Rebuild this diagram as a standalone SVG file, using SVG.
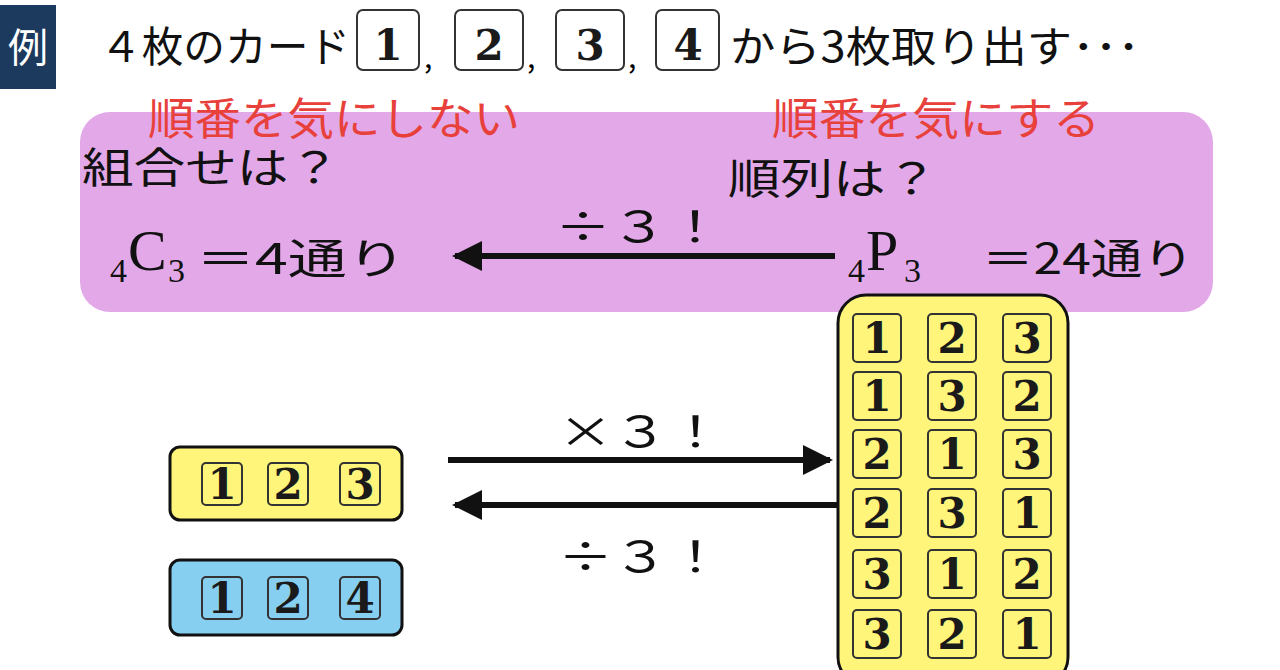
<svg xmlns="http://www.w3.org/2000/svg" width="1280" height="670" viewBox="0 0 1280 670">
<style>
.jp{font-family:"Noto Sans CJK JP","Liberation Sans",sans-serif}
.red{fill:#e8403a;font-size:44px}
.blk{fill:#111;font-size:42px}
.card{fill:none;stroke:#333;stroke-width:2}
.num{font-family:"DejaVu Serif","Liberation Serif",serif;font-weight:bold;font-size:42px;fill:#1a1a1a;text-anchor:middle}
.ser{font-family:"Liberation Serif",serif;fill:#111}
</style>
<defs>
<marker id="ah" viewBox="0 0 10 10" refX="9" refY="5" markerWidth="5" markerHeight="5" orient="auto-start-reverse" markerUnits="strokeWidth"><path d="M0,0 L10,5 L0,10 Z" fill="#111"/></marker>
</defs>
<rect width="1280" height="670" fill="#fff"/>
<g id="title">
<rect x="0" y="5" width="56" height="84" fill="#1c3a5e"/>
<text x="28" y="62" class="jp" font-size="40" fill="#fff" text-anchor="middle">例</text>
<text x="100" y="62" class="jp blk" font-size="38" textLength="250" lengthAdjust="spacingAndGlyphs">４枚のカード</text>
<rect x="357" y="10" width="62" height="60" rx="6" class="card"/><text x="388" y="60" class="num" font-size="52">1</text>
<text x="424" y="68" class="jp" font-size="30">,</text>
<rect x="455" y="10" width="68" height="60" rx="6" class="card"/><text x="489" y="60" class="num" font-size="52">2</text>
<text x="527" y="68" class="jp" font-size="30">,</text>
<rect x="556" y="10" width="68" height="60" rx="6" class="card"/><text x="590" y="60" class="num" font-size="52">3</text>
<text x="628" y="68" class="jp" font-size="30">,</text>
<rect x="656" y="10" width="63" height="60" rx="6" class="card"/><text x="688" y="60" class="num" font-size="52">4</text>
<text x="730" y="62" class="jp blk" font-size="38" textLength="410" lengthAdjust="spacingAndGlyphs">から3枚取り出す･･･</text>
</g>
<g id="pink">
<rect x="80" y="112" width="1133" height="200" rx="30" fill="#e2a8e8"/>
<text x="148" y="135" class="jp red" textLength="372" lengthAdjust="spacingAndGlyphs">順番を気にしない</text>
<text x="772" y="135" class="jp red" textLength="328" lengthAdjust="spacingAndGlyphs">順番を気にする</text>
<text x="82" y="183" class="jp blk" textLength="258" lengthAdjust="spacingAndGlyphs">組合せは？</text>
<text x="728" y="194" class="jp blk" textLength="210" lengthAdjust="spacingAndGlyphs">順列は？</text>
<text x="555" y="242" class="jp blk" font-size="56" textLength="168" lengthAdjust="spacingAndGlyphs">÷３！</text>
<text x="110" y="282" class="ser" font-size="34">4</text>
<text x="128" y="270" class="ser" font-size="58">C</text>
<text x="168" y="282" class="ser" font-size="34">3</text>
<text x="196" y="274" class="jp blk" textLength="210" lengthAdjust="spacingAndGlyphs">＝4通り</text>
<text x="848" y="282" class="ser" font-size="34">4</text>
<text x="866" y="270" class="ser" font-size="58">P</text>
<text x="904" y="282" class="ser" font-size="34">3</text>
<text x="982" y="274" class="jp blk" textLength="212" lengthAdjust="spacingAndGlyphs">＝24通り</text>
</g>
<g id="connectors" stroke="#111" stroke-width="6" fill="none">
<line x1="835" y1="256" x2="455" y2="256" marker-end="url(#ah)"/>
<line x1="448" y1="460" x2="830" y2="460" marker-end="url(#ah)"/>
<line x1="838" y1="505" x2="455" y2="505" marker-end="url(#ah)"/>
</g>
<text x="558" y="447" class="jp blk" font-size="56" textLength="165" lengthAdjust="spacingAndGlyphs">×３！</text>
<text x="558" y="572" class="jp blk" font-size="56" textLength="165" lengthAdjust="spacingAndGlyphs">÷３！</text>
<g id="combo123">
<rect x="170" y="447" width="232" height="73" rx="10" fill="#fef57a" stroke="#111" stroke-width="3"/>
<rect x="202" y="463" width="40" height="42" rx="4" class="card"/><text x="222" y="499" class="num" font-size="38">1</text>
<rect x="268" y="463" width="40" height="42" rx="4" class="card"/><text x="288" y="499" class="num" font-size="38">2</text>
<rect x="340" y="463" width="40" height="42" rx="4" class="card"/><text x="360" y="499" class="num" font-size="38">3</text>
</g>
<g id="combo124">
<rect x="170" y="560" width="232" height="75" rx="10" fill="#86cff0" stroke="#111" stroke-width="3"/>
<rect x="202" y="577" width="40" height="42" rx="4" class="card"/><text x="222" y="613" class="num" font-size="38">1</text>
<rect x="268" y="577" width="40" height="42" rx="4" class="card"/><text x="288" y="613" class="num" font-size="38">2</text>
<rect x="340" y="577" width="40" height="42" rx="4" class="card"/><text x="360" y="613" class="num" font-size="38">4</text>
</g>
<g id="perms">
<rect x="838" y="295" width="230" height="390" rx="28" fill="#fef57a" stroke="#111" stroke-width="3"/>
<g>
<rect x="853" y="314" width="48" height="48" rx="4" class="card"/><text x="877" y="353" class="num">1</text>
<rect x="928" y="314" width="48" height="48" rx="4" class="card"/><text x="952" y="353" class="num">2</text>
<rect x="1003" y="314" width="48" height="48" rx="4" class="card"/><text x="1027" y="353" class="num">3</text>
<rect x="853" y="372" width="48" height="48" rx="4" class="card"/><text x="877" y="411" class="num">1</text>
<rect x="928" y="372" width="48" height="48" rx="4" class="card"/><text x="952" y="411" class="num">3</text>
<rect x="1003" y="372" width="48" height="48" rx="4" class="card"/><text x="1027" y="411" class="num">2</text>
<rect x="853" y="430" width="48" height="48" rx="4" class="card"/><text x="877" y="469" class="num">2</text>
<rect x="928" y="430" width="48" height="48" rx="4" class="card"/><text x="952" y="469" class="num">1</text>
<rect x="1003" y="430" width="48" height="48" rx="4" class="card"/><text x="1027" y="469" class="num">3</text>
<rect x="853" y="489" width="48" height="48" rx="4" class="card"/><text x="877" y="528" class="num">2</text>
<rect x="928" y="489" width="48" height="48" rx="4" class="card"/><text x="952" y="528" class="num">3</text>
<rect x="1003" y="489" width="48" height="48" rx="4" class="card"/><text x="1027" y="528" class="num">1</text>
<rect x="853" y="550" width="48" height="48" rx="4" class="card"/><text x="877" y="589" class="num">3</text>
<rect x="928" y="550" width="48" height="48" rx="4" class="card"/><text x="952" y="589" class="num">1</text>
<rect x="1003" y="550" width="48" height="48" rx="4" class="card"/><text x="1027" y="589" class="num">2</text>
<rect x="853" y="610" width="48" height="48" rx="4" class="card"/><text x="877" y="649" class="num">3</text>
<rect x="928" y="610" width="48" height="48" rx="4" class="card"/><text x="952" y="649" class="num">2</text>
<rect x="1003" y="610" width="48" height="48" rx="4" class="card"/><text x="1027" y="649" class="num">1</text>
</g>
</g>
</svg>
